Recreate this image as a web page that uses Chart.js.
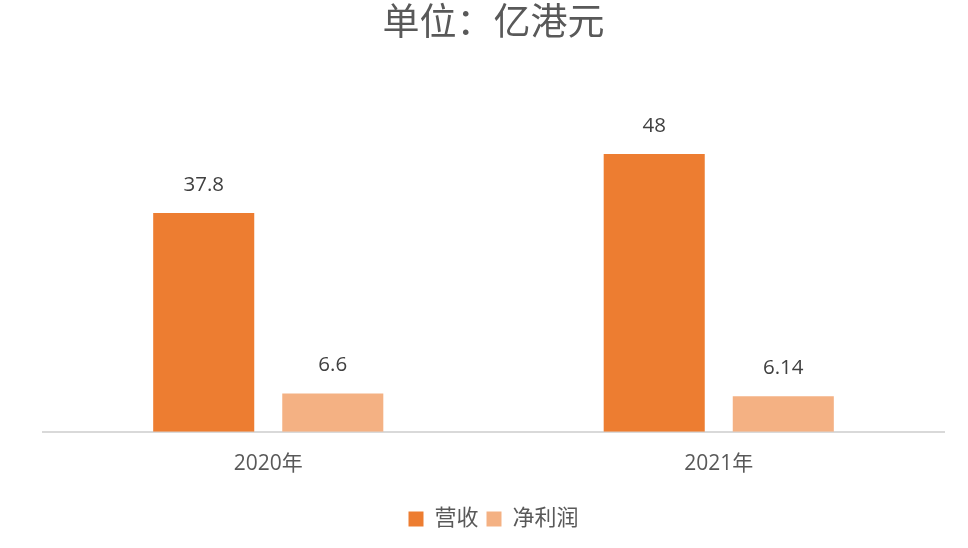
<!DOCTYPE html>
<html>
<head>
<meta charset="utf-8">
<script src="https://cdn.jsdelivr.net/npm/chart.js@4/dist/chart.umd.min.js"></script>
<style>
html,body{margin:0;padding:0;background:#fff;}
#wrap{width:968px;height:548px;}
</style>
</head>
<body>
<div id="wrap"><canvas id="c" width="968" height="548"></canvas></div>
<script>
const categories = ['2020年', '2021年'];
const seriesNames = ['营收', '净利润'];
const revenue = [37.8, 48];
const netProfit = [6.6, 6.14];
const titleText = '单位：亿港元';

const FONT = '"Open Sans", "Noto Sans CJK SC", sans-serif';

const labelPlugin = {
  id: 'barLabels',
  afterDatasetsDraw(chart) {
    const ctx = chart.ctx;
    ctx.save();
    ctx.font = '20.5px ' + FONT;
    ctx.fillStyle = '#404040';
    ctx.textAlign = 'center';
    ctx.textBaseline = 'middle';
    chart.data.datasets.forEach((ds, i) => {
      const meta = chart.getDatasetMeta(i);
      meta.data.forEach((bar, j) => {
        ctx.fillText(String(ds.data[j]), bar.x, bar.y - 28);
      });
    });
    ctx.restore();
  }
};

new Chart(document.getElementById('c'), {
  type: 'bar',
  data: {
    labels: categories,
    datasets: [
      { label: seriesNames[0], data: revenue, backgroundColor: '#ED7D31', categoryPercentage: 0.573, barPercentage: 0.783 },
      { label: seriesNames[1], data: netProfit, backgroundColor: '#F4B183', categoryPercentage: 0.573, barPercentage: 0.783 }
    ]
  },
  options: {
    responsive: false,
    animation: false,
    devicePixelRatio: 1,
    layout: { padding: { left: 43, right: 24, top: 0, bottom: 8 } },
    plugins: {
      title: {
        display: true,
        text: titleText,
        color: '#595959',
        font: { size: 37, family: FONT, weight: 'normal' },
        padding: { top: 2, bottom: 38 }
      },
      legend: {
        position: 'bottom',
        labels: {
          color: '#595959',
          font: { size: 22, family: FONT },
          boxWidth: 15,
          boxHeight: 15,
          padding: 8
        }
      },
      tooltip: { enabled: false }
    },
    scales: {
      x: {
        grid: { display: false, drawTicks: false },
        border: { display: true, color: '#D9D9D9', width: 2 },
        ticks: { color: '#595959', font: { size: 21, family: FONT }, padding: 20 },
        afterFit(scale) { scale.height += 3; }
      },
      y: {
        display: false,
        min: 0,
        max: 60
      }
    }
  },
  plugins: [labelPlugin]
});
</script>
</body>
</html>
